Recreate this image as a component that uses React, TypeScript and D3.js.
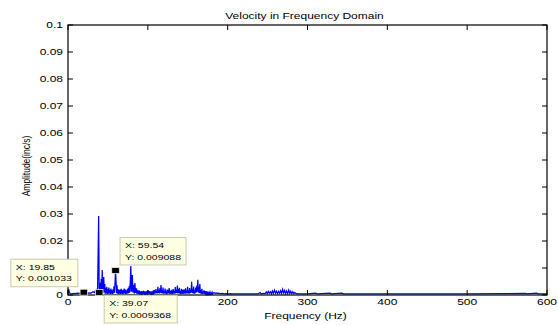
import React from "react";
import * as d3 from "d3";

// Amplitude spectrum of the velocity signal: [frequency (Hz), amplitude (in/s)]
const SPECTRUM: [number, number][] = [
  [0.0, 0.0004], [0.6, 0.0022], [1.3, 0.0016], [1.9, 0.0008], [3.2, 0.0005],
  [5.1, 0.0004], [7.0, 0.0006], [9.0, 0.0005], [11.5, 0.0007], [14.1, 0.0006],
  [16.6, 0.0009], [18.6, 0.0008], [19.85, 0.001033], [21.1, 0.0007], [23.7, 0.0006],
  [26.2, 0.0008], [28.8, 0.0007], [31.4, 0.0012], [33.3, 0.0009], [34.6, 0.0018],
  [35.9, 0.0014], [37.1, 0.0026], [38.4, 0.0293], [39.07, 0.0009368], [39.7, 0.0006],
  [40.3, 0.0045], [41.0, 0.0008], [41.6, 0.006], [42.3, 0.0012], [42.9, 0.0093],
  [43.5, 0.0007], [44.2, 0.0035], [44.8, 0.0067], [45.4, 0.0009], [46.1, 0.0041],
  [46.7, 0.0005], [47.4, 0.0026], [48.0, 0.0006], [48.6, 0.003], [49.3, 0.0004],
  [49.9, 0.0022], [50.6, 0.0005], [51.2, 0.0028], [51.8, 0.0006], [52.5, 0.0019],
  [53.1, 0.0004], [53.8, 0.0024], [54.4, 0.0005], [55.0, 0.0017], [55.7, 0.0004],
  [56.3, 0.0021], [57.0, 0.0006], [57.6, 0.0032], [58.2, 0.0008], [58.9, 0.0046],
  [59.54, 0.009088], [60.2, 0.005], [60.8, 0.0007], [61.4, 0.0036], [62.1, 0.0005],
  [62.7, 0.0022], [63.4, 0.0004], [64.0, 0.0018], [64.6, 0.0005], [65.3, 0.002],
  [65.9, 0.0004], [66.6, 0.0023], [67.2, 0.0005], [67.8, 0.0017], [68.5, 0.0004],
  [69.1, 0.0019], [69.8, 0.0005], [70.4, 0.0024], [71.0, 0.0006], [71.7, 0.002],
  [72.3, 0.0004], [73.0, 0.0016], [73.6, 0.0005], [74.2, 0.0021], [74.9, 0.0006],
  [75.5, 0.0027], [76.2, 0.0007], [76.8, 0.0034], [77.4, 0.0009], [78.1, 0.0055],
  [78.7, 0.0107], [79.4, 0.0012], [80.0, 0.0028], [80.6, 0.0074], [81.3, 0.0009],
  [81.9, 0.0019], [82.6, 0.0038], [83.2, 0.0006], [83.8, 0.0044], [84.5, 0.0008],
  [85.1, 0.0013], [85.8, 0.0025], [86.4, 0.0004], [87.0, 0.0018], [87.6, 0.0005],
  [88.3, 0.0011], [88.9, 0.0004], [89.6, 0.0016], [90.2, 0.0005], [90.9, 0.0009],
  [91.5, 0.0004], [92.2, 0.0014], [92.8, 0.0005], [93.4, 0.001], [94.1, 0.0004],
  [94.7, 0.0015], [95.4, 0.0005], [96.0, 0.0009], [96.6, 0.0004], [97.3, 0.0013],
  [97.9, 0.0005], [98.6, 0.001], [99.2, 0.0004], [99.8, 0.0016], [100.5, 0.0005],
  [101.1, 0.0011], [101.8, 0.0004], [102.4, 0.0014], [103.0, 0.0005], [103.7, 0.0009],
  [104.3, 0.0004], [105.0, 0.0013], [105.6, 0.0005], [106.2, 0.0011], [106.9, 0.0006],
  [107.5, 0.0018], [108.2, 0.0005], [108.8, 0.0012], [109.4, 0.0006], [110.1, 0.0022],
  [110.7, 0.0007], [111.4, 0.0015], [112.0, 0.0006], [112.6, 0.003], [113.3, 0.0008],
  [113.9, 0.0017], [114.6, 0.0006], [115.2, 0.0026], [115.8, 0.0009], [116.5, 0.0037],
  [117.1, 0.0007], [117.8, 0.0019], [118.4, 0.0006], [119.0, 0.0028], [119.7, 0.0005],
  [120.3, 0.0015], [121.0, 0.0006], [121.6, 0.0024], [122.2, 0.0005], [122.9, 0.0013],
  [123.5, 0.0004], [124.2, 0.002], [124.8, 0.0005], [125.4, 0.0012], [126.1, 0.0006],
  [126.7, 0.0026], [127.4, 0.0005], [128.0, 0.0014], [128.6, 0.0004], [129.3, 0.0019],
  [129.9, 0.0005], [130.6, 0.0011], [131.2, 0.0004], [131.8, 0.0022], [132.5, 0.0006],
  [133.1, 0.0014], [133.8, 0.0005], [134.4, 0.0029], [135.0, 0.0007], [135.7, 0.0018],
  [136.3, 0.0008], [137.0, 0.0035], [137.6, 0.0006], [138.2, 0.0021], [138.9, 0.0007],
  [139.5, 0.0027], [140.2, 0.0005], [140.8, 0.0014], [141.4, 0.0004], [142.1, 0.0023],
  [142.7, 0.0005], [143.4, 0.0012], [144.0, 0.0004], [144.6, 0.002], [145.3, 0.0005],
  [145.9, 0.0013], [146.6, 0.0006], [147.2, 0.0025], [147.8, 0.0005], [148.5, 0.0015],
  [149.1, 0.0007], [149.8, 0.003], [150.4, 0.0006], [151.0, 0.0017], [151.7, 0.0005],
  [152.3, 0.0026], [153.0, 0.0007], [153.6, 0.0019], [154.2, 0.0009], [154.9, 0.0049],
  [155.5, 0.0008], [156.2, 0.0022], [156.8, 0.0006], [157.4, 0.0031], [158.1, 0.0005],
  [158.7, 0.0016], [159.4, 0.0007], [160.0, 0.0028], [160.6, 0.0009], [161.3, 0.0035],
  [161.9, 0.0012], [162.6, 0.0056], [163.2, 0.0009], [163.8, 0.003], [164.5, 0.0008],
  [165.1, 0.0041], [165.8, 0.0006], [166.4, 0.0018], [167.0, 0.0005], [167.7, 0.0023],
  [168.3, 0.0004], [169.0, 0.0012], [169.6, 0.0005], [170.2, 0.0017], [170.9, 0.0004],
  [171.5, 0.001], [172.2, 0.0005], [172.8, 0.0014], [173.4, 0.0004], [174.1, 0.0009],
  [174.7, 0.0004], [175.4, 0.0012], [176.0, 0.0004], [176.6, 0.0008], [177.3, 0.0004],
  [177.9, 0.0011], [178.6, 0.0004], [179.2, 0.0007], [179.8, 0.0004], [180.5, 0.001],
  [181.1, 0.0004], [181.8, 0.0007], [183.0, 0.0009], [184.3, 0.0006], [185.6, 0.0008],
  [186.9, 0.0006], [188.2, 0.0007], [190.7, 0.0005], [193.3, 0.0006], [195.8, 0.0004],
  [198.4, 0.0005], [201.0, 0.0004], [203.5, 0.0005], [206.1, 0.0004], [210.0, 0.0004],
  [215.0, 0.0004], [220.0, 0.0004], [225.0, 0.0004], [230.0, 0.0004], [235.0, 0.0004],
  [238.0, 0.0004], [240.6, 0.0009], [242.0, 0.0004], [244.5, 0.0006], [247.1, 0.0005],
  [248.4, 0.0011], [249.6, 0.0005], [250.9, 0.0013], [252.2, 0.0006], [253.5, 0.0012],
  [254.8, 0.0005], [256.0, 0.0015], [257.3, 0.0006], [258.6, 0.0018], [259.9, 0.0007],
  [261.1, 0.0014], [262.4, 0.0005], [263.7, 0.0013], [265.0, 0.0006], [266.3, 0.0016],
  [267.5, 0.0006], [268.8, 0.0021], [270.1, 0.0007], [271.4, 0.0017], [272.6, 0.0005],
  [273.9, 0.0015], [275.2, 0.0005], [276.5, 0.0018], [277.8, 0.0006], [279.0, 0.0014],
  [280.3, 0.0005], [281.6, 0.0012], [282.9, 0.0005], [284.2, 0.0009], [286.0, 0.0005],
  [288.0, 0.0004], [292.0, 0.0004], [300.0, 0.0004], [310.0, 0.0007], [312.0, 0.0004],
  [328.0, 0.0007], [330.0, 0.0004], [343.0, 0.0007], [345.0, 0.0004], [400.0, 0.0004],
  [500.0, 0.0004], [573.0, 0.0006], [575.0, 0.0004], [587.0, 0.0007], [589.0, 0.0004],
  [600.0, 0.0004],
];

// Data cursors placed on the spectrum (frequencies in Hz)
const TIP_FREQS = [19.85, 39.07, 59.54];

const X_TICKS = [0, 100, 200, 300, 400, 500, 600];
const Y_TICKS = [0, 0.01, 0.02, 0.03, 0.04, 0.05, 0.06, 0.07, 0.08, 0.09, 0.1];

const TITLE = "Velocity in Frequency Domain";
const X_LABEL = "Frequency (Hz)";
const Y_LABEL = "Amplitude(inc/s)";

const W = 558;
const H = 325;
const PLOT = { left: 68, right: 547, top: 25, bottom: 295 };
const SQUASH = 0.77;
const FONT = "'Liberation Sans', Arial, Helvetica, sans-serif";

// box placement of each data cursor relative to its marker
const TIP_BOXES = [
  { dx: -73, dy: -33, w: 67, h: 27.5 },
  { dx: 5, dy: 3, w: 73, h: 27.5 },
  { dx: 4.5, dy: -33, w: 66, h: 27.5 },
];

function SText({ x, y, size, anchor = "start", rotate = 0, children }: any) {
  return (
    <text
      transform={`translate(${x},${y}) scale(1,${SQUASH})${rotate ? ` rotate(${rotate})` : ""}`}
      fontSize={size}
      fontFamily={FONT}
      textAnchor={anchor}
      dominantBaseline="central"
      fill="#000"
    >
      {children}
    </text>
  );
}

export default function App() {
  const x = d3.scaleLinear().domain([0, 600]).range([PLOT.left, PLOT.right]);
  const y = d3.scaleLinear().domain([0, 0.1]).range([PLOT.bottom, PLOT.top]);
  const line = d3
    .line<[number, number]>()
    .x((d) => x(d[0]))
    .y((d) => y(d[1]));

  const tipPoints = TIP_FREQS.map((f) => SPECTRUM.find((p) => p[0] === f)!);
  const fmtY = (v: number) => String(+v.toFixed(2));
  const tick = 5;

  return (
    <svg
      width={W}
      height={H}
      style={{ position: "absolute", left: 0, top: 0, background: "#fff" }}
    >
      <rect x={0} y={0} width={W} height={H} fill="#fff" />
      <path d={line(SPECTRUM) || ""} fill="none" stroke="#0000ff" strokeWidth={1.25} />

      {/* axes box and inward ticks */}
      <rect
        x={PLOT.left}
        y={PLOT.top}
        width={PLOT.right - PLOT.left}
        height={PLOT.bottom - PLOT.top}
        fill="none"
        stroke="#000"
        strokeWidth={1.2}
      />
      {X_TICKS.map((t) => (
        <g key={`xt${t}`} stroke="#000" strokeWidth={1}>
          <line x1={x(t)} x2={x(t)} y1={PLOT.bottom} y2={PLOT.bottom - tick} />
          <line x1={x(t)} x2={x(t)} y1={PLOT.top} y2={PLOT.top + tick} />
        </g>
      ))}
      {Y_TICKS.map((t) => (
        <g key={`yt${t}`} stroke="#000" strokeWidth={1}>
          <line x1={PLOT.left} x2={PLOT.left + tick} y1={y(t)} y2={y(t)} />
          <line x1={PLOT.right} x2={PLOT.right - tick} y1={y(t)} y2={y(t)} />
        </g>
      ))}
      {X_TICKS.map((t) => (
        <SText key={`xl${t}`} x={x(t)} y={PLOT.bottom + 7} size={12} anchor="middle">
          {String(t)}
        </SText>
      ))}
      {Y_TICKS.map((t) => (
        <SText key={`yl${t}`} x={PLOT.left - 5} y={y(t)} size={12} anchor="end">
          {fmtY(t)}
        </SText>
      ))}

      <SText x={(PLOT.left + PLOT.right) / 2 - 3} y={16} size={12} anchor="middle">
        {TITLE}
      </SText>
      <SText x={(PLOT.left + PLOT.right) / 2 - 2} y={316} size={12} anchor="middle">
        {X_LABEL}
      </SText>
      <SText x={26.5} y={166} size={11} anchor="middle" rotate={-90}>
        {Y_LABEL}
      </SText>

      {/* data cursors */}
      {tipPoints.map((p, i) => {
        const mx = x(p[0]);
        const my = y(p[1]);
        const b = TIP_BOXES[i];
        const bx = mx + b.dx;
        const by = my + b.dy;
        return (
          <g key={`tip${i}`}>
            <rect
              x={bx}
              y={by}
              width={b.w}
              height={b.h}
              fill="#ffffe1"
              stroke="#c9c9b4"
              strokeWidth={1}
            />
            <SText x={bx + 5} y={by + 8} size={10.5}>
              {`X: ${p[0]}`}
            </SText>
            <SText x={bx + 5} y={by + 19.5} size={10.5}>
              {`Y: ${p[1]}`}
            </SText>
            <rect
              x={mx - 3.8}
              y={my - 3}
              width={7.6}
              height={6}
              fill="#000"
              stroke="#f5f0c8"
              strokeWidth={0.8}
            />
          </g>
        );
      })}
    </svg>
  );
}
